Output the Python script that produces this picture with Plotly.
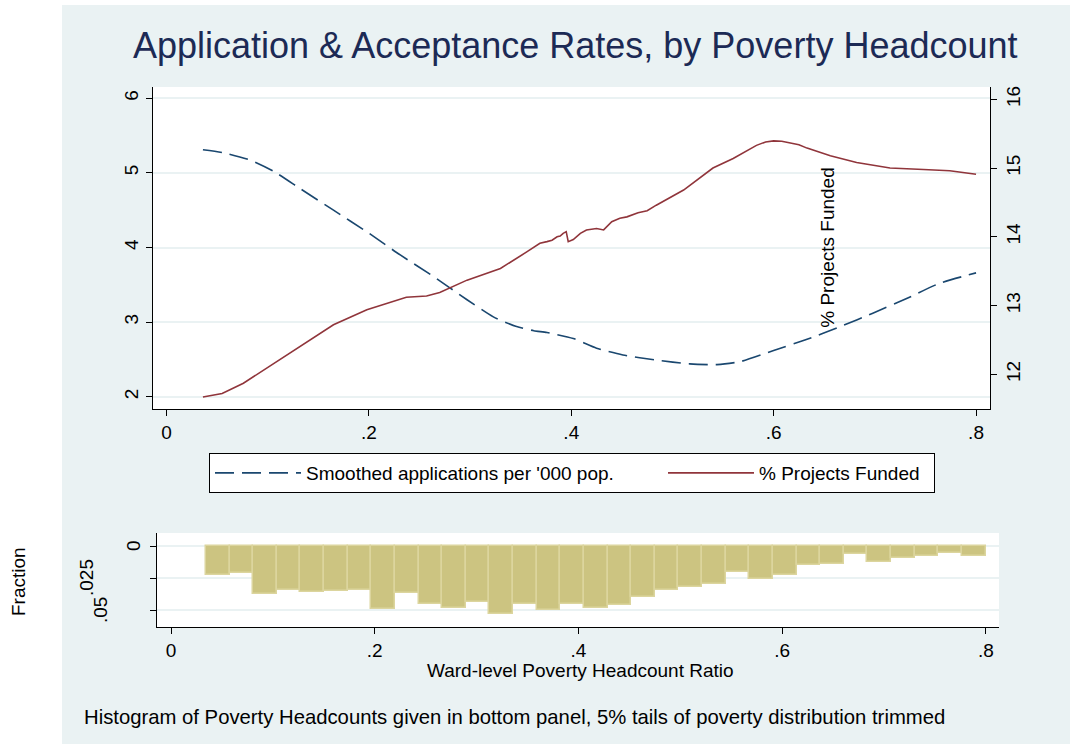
import plotly.graph_objects as go

W, H = 1070, 744

# ---------------- data ----------------
app_x = [0.036, 0.056, 0.083, 0.106, 0.132, 0.165, 0.198, 0.231, 0.264, 0.297, 0.323, 0.346,
         0.363, 0.376, 0.402, 0.425, 0.451, 0.484, 0.517, 0.544, 0.567, 0.600, 0.633, 0.666,
         0.698, 0.732, 0.764, 0.800]
app_y = [5.31, 5.27, 5.17, 5.02, 4.79, 4.50, 4.21, 3.90, 3.61, 3.30, 3.07, 2.94,
         2.885, 2.86, 2.78, 2.65, 2.56, 2.49, 2.44, 2.43, 2.47, 2.62, 2.77, 2.94,
         3.12, 3.32, 3.52, 3.66]

fund_x = [0.036, 0.055, 0.076, 0.099, 0.132, 0.165, 0.198, 0.231, 0.237, 0.257,
          0.270, 0.297, 0.330, 0.356, 0.369, 0.376, 0.381, 0.386, 0.389, 0.392,
          0.395, 0.397, 0.402, 0.409, 0.415, 0.425, 0.432, 0.440, 0.448, 0.455,
          0.461, 0.466, 0.475, 0.484, 0.511, 0.540, 0.560, 0.583, 0.592, 0.600,
          0.608, 0.616, 0.625, 0.633, 0.656, 0.682, 0.715, 0.748, 0.774, 0.800]
fund_y = [11.67, 11.72, 11.87, 12.09, 12.40, 12.72, 12.94, 13.09, 13.12, 13.14,
          13.19, 13.37, 13.54, 13.78, 13.905, 13.93, 13.95, 14.00, 14.01, 14.05,
          14.075, 13.93, 13.96, 14.05, 14.10, 14.12, 14.10, 14.22, 14.27, 14.29,
          14.32, 14.35, 14.38, 14.46, 14.68, 15.00, 15.14, 15.33, 15.38, 15.395,
          15.39, 15.37, 15.34, 15.29, 15.18, 15.08, 15.00, 14.98, 14.96, 14.91]

hist_start = 0.0343
hist_width = 0.02319
hist_frac = [0.0227, 0.0208, 0.0375, 0.0344, 0.0357, 0.0354, 0.0344, 0.0495, 0.0365, 0.0456,
             0.0487, 0.0435, 0.0531, 0.0456, 0.0500, 0.0453, 0.0487, 0.0460, 0.0396, 0.0344,
             0.0323, 0.0297, 0.0203, 0.0258, 0.0227, 0.0148, 0.0143, 0.0065, 0.0122, 0.0096,
             0.0078, 0.0052, 0.0076]
hist_centers = [hist_start + hist_width * (i + 0.5) for i in range(len(hist_frac))]

x_ticks = [0, 0.2, 0.4, 0.6, 0.8]
x_ticktext = ["0", ".2", ".4", ".6", ".8"]
yl_ticks = [2, 3, 4, 5, 6]
yr_ticks = [12, 13, 14, 15, 16]
yh_ticks = [0, 0.025, 0.05]
yh_ticktext = ["0", ".025", ".05"]

title_text = "Application & Acceptance Rates, by Poverty Headcount"
name_app = "Smoothed applications per '000 pop."
name_fund = "% Projects Funded"
xh_title = "Ward-level Poverty Headcount Ratio"
yh_title = "Fraction"
note_text = "Histogram of Poverty Headcounts given in bottom panel, 5% tails of poverty distribution trimmed"

# ---------------- styles ----------------
BG = "#EAF2F3"
NAVY = "#1A476F"
MAROON = "#90353B"
BAR = "#CCC481"
BAR_EDGE = "#DCD59E"
TITLE_C = "#1C2A55"
FONT = "Liberation Sans, Arial, sans-serif"
FS = 19


def px(x):
    return x / W


def py(y):
    return 1 - y / H


fig = go.Figure()

fig.add_trace(go.Scatter(
    x=app_x, y=app_y, mode="lines", name=name_app,
    line=dict(color=NAVY, width=1.6, dash="19px,8px", shape="spline", smoothing=0.6),
    xaxis="x", yaxis="y", legendwidth=352,
))
fig.add_trace(go.Scatter(
    x=fund_x, y=fund_y, mode="lines", name=name_fund,
    line=dict(color=MAROON, width=1.6),
    xaxis="x", yaxis="y2", legendwidth=170,
))
fig.add_trace(go.Bar(
    x=hist_centers, y=hist_frac, width=hist_width, showlegend=False,
    marker=dict(color=BAR, line=dict(color=BAR_EDGE, width=1.5)),
    xaxis="x2", yaxis="y3",
))

axis_common = dict(
    showline=True, linecolor="#000000", linewidth=1.2,
    ticks="outside", ticklen=6, tickcolor="#000000", tickwidth=1.2,
    tickfont=dict(family=FONT, size=FS, color="#000000"),
    zeroline=False,
)

fig.update_layout(
    width=W, height=H,
    margin=dict(l=0, r=0, t=0, b=0),
    paper_bgcolor=BG, plot_bgcolor="#FFFFFF",
    font=dict(family=FONT, size=FS, color="#000000"),
    showlegend=True,
    bargap=0,
    xaxis=dict(domain=[px(153), px(990)], range=[-0.01334, 0.8138], anchor="y",
               tickvals=x_ticks, ticktext=x_ticktext, showgrid=False, **axis_common),
    yaxis=dict(domain=[py(409), py(87)], range=[1.8351, 6.1515], anchor="x",
               tickvals=yl_ticks, tickangle=-90, showgrid=True, gridcolor=BG, gridwidth=1.5,
               **axis_common),
    yaxis2=dict(overlaying="y", side="right", anchor="x", range=[11.4953, 16.179],
                tickvals=yr_ticks, tickangle=-90, showgrid=False, **axis_common),
    xaxis2=dict(domain=[px(157), px(999)], range=[-0.01374, 0.8128], anchor="y3",
                tickvals=x_ticks, ticktext=x_ticktext, showgrid=False, **axis_common),
    yaxis3=dict(domain=[py(627), py(533)], range=[0.06328, -0.01016], anchor="x2",
                tickvals=yh_ticks, showticklabels=False, showgrid=True, gridcolor=BG,
                gridwidth=1.5, **axis_common),
    legend=dict(orientation="h", x=px(209), xanchor="left", y=py(453), yanchor="top",
                bgcolor="#FFFFFF", bordercolor="#000000", borderwidth=1,
                font=dict(family=FONT, size=FS, color="#000000"),
                itemwidth=86, traceorder="normal"),
)

shapes = [
    dict(type="rect", xref="paper", yref="paper", x0=0, x1=px(62), y0=0, y1=1,
         fillcolor="#FFFFFF", line=dict(width=0), layer="below"),
    dict(type="rect", xref="paper", yref="paper", x0=0, x1=1, y0=py(5), y1=1,
         fillcolor="#FFFFFF", line=dict(width=0), layer="below"),
]
fig.update_layout(shapes=shapes)

ann = [
    dict(text=title_text, x=px(575), y=py(45), xref="paper", yref="paper",
         showarrow=False, xanchor="center", yanchor="middle",
         font=dict(family=FONT, size=36, color=TITLE_C)),
    dict(text=name_fund, x=0.653, y=4.0, xref="x", yref="y", textangle=-90,
         showarrow=False, xanchor="center", yanchor="middle",
         font=dict(family=FONT, size=FS, color="#000000")),
    dict(text=yh_title, x=px(18), y=py(582), xref="paper", yref="paper", textangle=-90,
         showarrow=False, xanchor="center", yanchor="middle",
         font=dict(family=FONT, size=FS, color="#000000")),
    dict(text=xh_title, x=px(580), y=py(670), xref="paper", yref="paper",
         showarrow=False, xanchor="center", yanchor="middle",
         font=dict(family=FONT, size=FS, color="#000000")),
    dict(text=note_text, x=px(82), y=py(717), xref="paper", yref="paper",
         showarrow=False, xanchor="left", yanchor="middle",
         font=dict(family=FONT, size=20.3, color="#000000")),
]
hist_label_x = [133, 86, 100]
for val, txt, lx in zip(yh_ticks, yh_ticktext, hist_label_x):
    ann.append(dict(text=txt, x=px(lx), y=val, xref="paper", yref="y3", textangle=-90,
                    showarrow=False, xanchor="center", yanchor="middle",
                    font=dict(family=FONT, size=FS, color="#000000")))
fig.update_layout(annotations=ann)

fig.write_html("out.html", config={"displayModeBar": False},
               post_script="document.body.style.margin='0px';document.body.style.padding='0px';")
